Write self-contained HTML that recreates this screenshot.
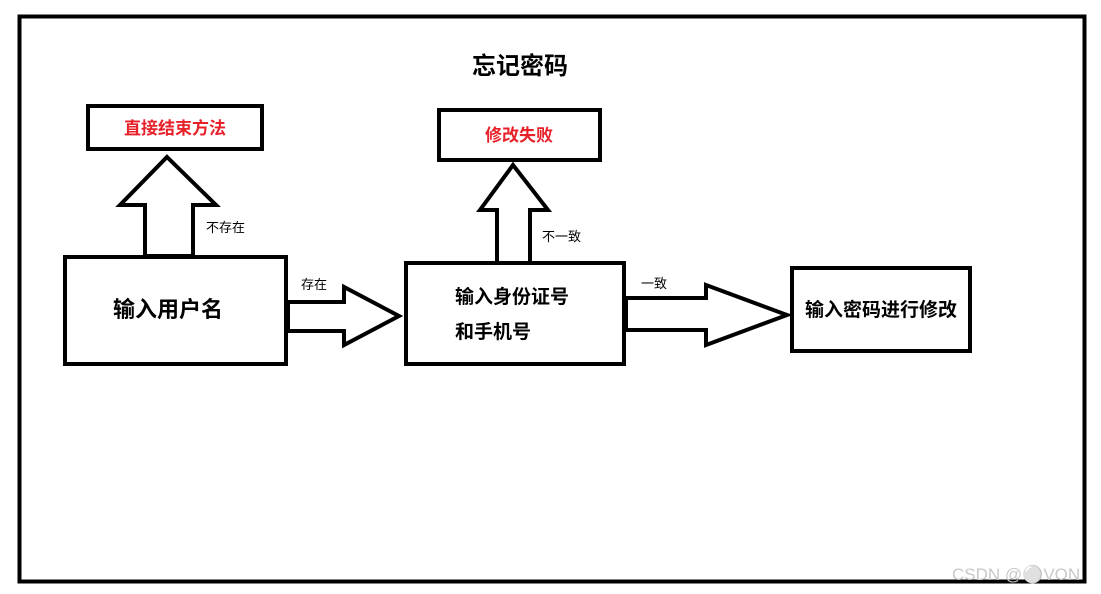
<!DOCTYPE html>
<html><head><meta charset="utf-8"><style>
body{margin:0;background:#fff;}
svg{display:block;font-family:"Liberation Sans","Noto Sans CJK SC",sans-serif;}
</style></head><body>
<svg width="1101" height="594" viewBox="0 0 1101 594">
<rect x="0" y="0" width="1101" height="594" fill="#fff"/>
<rect x="19.5" y="16.5" width="1065" height="565" fill="none" stroke="#000" stroke-width="4"/>
<text x="520" y="74" font-size="24" font-weight="bold" text-anchor="middle">忘记密码</text>

<rect x="88" y="106" width="174" height="43" fill="none" stroke="#000" stroke-width="4"/>
<text x="175" y="134" font-size="17" font-weight="bold" fill="#e8202a" text-anchor="middle">直接结束方法</text>

<polygon points="167,157 216,205 193,205 193,256 145,256 145,205 120,205" fill="#fff" stroke="#000" stroke-width="4" stroke-linejoin="miter"/>
<text x="206" y="232" font-size="13">不存在</text>

<rect x="65" y="257" width="221" height="107" fill="none" stroke="#000" stroke-width="4"/>
<text x="168" y="317" font-size="22" font-weight="bold" text-anchor="middle">输入用户名</text>

<polygon points="288,302 344,302 344,287 399,316 344,345 344,331 288,331" fill="#fff" stroke="#000" stroke-width="4"/>
<text x="301" y="289" font-size="13">存在</text>

<rect x="439" y="110" width="161" height="50" fill="none" stroke="#000" stroke-width="4"/>
<text x="519" y="141" font-size="17" font-weight="bold" fill="#e8202a" text-anchor="middle">修改失败</text>

<polygon points="513,165 548,210 530,210 530,263 497,263 497,210 480,210" fill="#fff" stroke="#000" stroke-width="4"/>
<text x="542" y="241" font-size="13">不一致</text>

<rect x="406" y="263" width="218" height="101" fill="none" stroke="#000" stroke-width="4"/>
<text x="455" y="303" font-size="19" font-weight="bold">输入身份证号</text>
<text x="455" y="338" font-size="19" font-weight="bold">和手机号</text>

<polygon points="626,298 706,298 706,285 787,315 706,345 706,330 626,330" fill="#fff" stroke="#000" stroke-width="4"/>
<text x="641" y="288" font-size="13">一致</text>

<rect x="792" y="268" width="178" height="83" fill="none" stroke="#000" stroke-width="4"/>
<text x="881" y="316" font-size="19" font-weight="bold" text-anchor="middle">输入密码进行修改</text>

<text x="952" y="580" font-size="17" fill="#c8c8c8">CSDN @⚪VON</text>
</svg>
</body></html>
